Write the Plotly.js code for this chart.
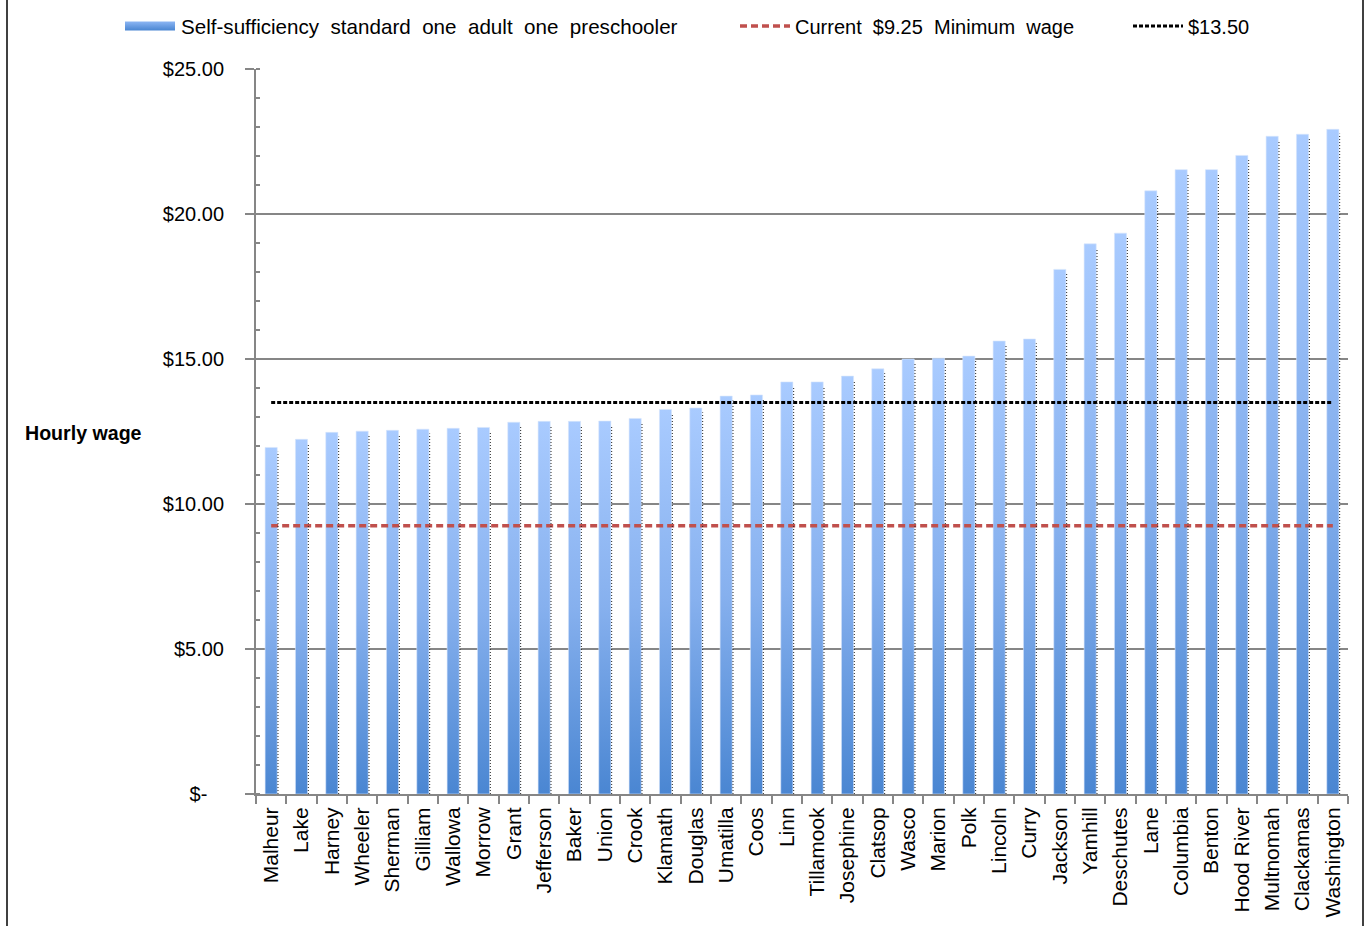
<!DOCTYPE html>
<html>
<head>
<meta charset="utf-8">
<script src="https://cdn.plot.ly/plotly-3.0.1.min.js"></script>
<style>
  html, body { margin: 0; padding: 0; background: #fff; }
  #chart { width: 1368px; height: 926px; }
</style>
</head>
<body>
<div id="chart"></div>
<script>
// ---- Data ----
const counties = ["Malheur","Lake","Harney","Wheeler","Sherman","Gilliam","Wallowa","Morrow","Grant","Jefferson","Baker","Union","Crook","Klamath","Douglas","Umatilla","Coos","Linn","Tillamook","Josephine","Clatsop","Wasco","Marion","Polk","Lincoln","Curry","Jackson","Yamhill","Deschutes","Lane","Columbia","Benton","Hood River","Multnomah","Clackamas","Washington"];
const selfSufficiency = [11.95,12.23,12.47,12.51,12.54,12.58,12.61,12.64,12.82,12.85,12.85,12.86,12.95,13.26,13.31,13.72,13.76,14.21,14.21,14.41,14.66,15.00,15.03,15.10,15.62,15.69,18.09,18.97,19.34,20.80,21.53,21.53,22.02,22.68,22.75,22.92];
const currentMinWage = 9.25;
const proposedWage = 13.50;
const yTickVals = [0,5,10,15,20,25];
const yTickText = ["$-\u00a0\u00a0\u00a0","$5.00","$10.00","$15.00","$20.00","$25.00"];
const seriesNames = ["Self-sufficiency  standard  one  adult  one  preschooler","Current  $9.25  Minimum  wage","$13.50"];

// ---- Derived traces ----
const gray = "#868686";
const font = "Liberation Sans, Arial, sans-serif";

// shadow dotted lines beside each bar (Excel shadow look)
const shX = [], shY = [];
selfSufficiency.forEach((v, i) => {
  shX.push(i + 0.225, i + 0.225, null);
  shY.push(0, v - 0.15, null);
});

const traces = [
  {
    type: "bar", x: counties, y: selfSufficiency, name: seriesNames[0], legend: "legend",
    width: 0.4,
    marker: { color: "#7BA7EA", line: { color: "#d6e5fb", width: 0.6 } },
    hoverinfo: "x+y"
  },
  {
    type: "scatter", mode: "lines", x: counties, y: counties.map(() => currentMinWage),
    name: seriesNames[1], legend: "legend2",
    line: { color: "#C0504D", width: 3.5, dash: "7px,4px" }
  },
  {
    type: "scatter", mode: "lines", x: counties, y: counties.map(() => proposedWage),
    name: seriesNames[2], legend: "legend3",
    line: { color: "#000000", width: 2.8, dash: "4px,2px" }
  },
  {
    type: "scatter", mode: "lines", x: shX, y: shY, xaxis: "x2",
    showlegend: false, hoverinfo: "skip",
    line: { color: "#222", width: 1, dash: "1px,2px" }
  }
];

const legFont = { family: font, size: 20, color: "#000" };
const legY = 1 + (69 - 26) / 725;
const px2x = px => (px - 256) / 1092;
const legBase = { orientation: "h", y: legY, yanchor: "middle", xanchor: "left",
                  font: legFont, itemwidth: 50, bgcolor: "rgba(0,0,0,0)", borderwidth: 0 };

const layout = {
  width: 1368, height: 926,
  margin: { l: 256, r: 20, t: 69, b: 132, autoexpand: false },
  paper_bgcolor: "#fff", plot_bgcolor: "#fff",
  font: { family: font, size: 18, color: "#000" },
  showlegend: true,
  legend: Object.assign({}, legBase, { x: px2x(121), font: { family: font, size: 20.6, color: "#000" } }),
  legend2: Object.assign({}, legBase, { x: px2x(735) }),
  legend3: Object.assign({}, legBase, { x: px2x(1128) }),
  xaxis: {
    type: "category", tickson: "boundaries",
    ticks: "outside", ticklen: 8, tickwidth: 2, tickcolor: gray,
    showline: true, linecolor: gray, linewidth: 2,
    tickangle: -90, ticklabelstandoff: 3,
    tickfont: { family: font, size: 21, color: "#000" },
    showgrid: false, zeroline: false, range: [-0.5, counties.length - 0.5]
  },
  xaxis2: {
    overlaying: "x", visible: false, range: [-0.5, counties.length - 0.5], fixedrange: true
  },
  yaxis: {
    range: [0, 25], tickvals: yTickVals, ticktext: yTickText,
    ticks: "outside", ticklen: 9, tickwidth: 2, tickcolor: gray,
    showline: true, linecolor: gray, linewidth: 2,
    showgrid: true, gridcolor: gray, gridwidth: 2,
    zeroline: false, ticklabelstandoff: 17,
    tickfont: { family: font, size: 20, color: "#000" },
    minor: { dtick: 1, ticks: "inside", ticklen: 4, tickcolor: gray, tickwidth: 1.5, showgrid: false }
  },
  annotations: [
    { text: "<b>Hourly wage</b>", xref: "paper", yref: "paper", x: px2x(83), y: (794 - 433) / 725,
      xanchor: "center", yanchor: "middle",
      showarrow: false, font: { family: font, size: 19.6, color: "#000" } }
  ],
  shapes: [
    { type: "line", xref: "paper", yref: "paper", x0: px2x(7), x1: px2x(7), y0: -0.3, y1: 1.2,
      line: { color: "#404040", width: 2 } },
    { type: "line", xref: "paper", yref: "paper", x0: px2x(1363), x1: px2x(1363), y0: -0.3, y1: 1.2,
      line: { color: "#404040", width: 2 } }
  ]
};

Plotly.newPlot("chart", traces, layout, { staticPlot: true, displayModeBar: false }).then(gd => {
  const svg = gd.querySelector("svg.main-svg");
  const NS = "http://www.w3.org/2000/svg";
  let defs = svg.querySelector("defs");
  if (!defs) { defs = document.createElementNS(NS, "defs"); svg.insertBefore(defs, svg.firstChild); }
  function grad(id, stops, horiz) {
    const g = document.createElementNS(NS, "linearGradient");
    g.setAttribute("id", id); g.setAttribute("x1", "0"); g.setAttribute("y1", "0");
    g.setAttribute("x2", horiz ? "1" : "0"); g.setAttribute("y2", horiz ? "0" : "1");
    stops.forEach(([o, c]) => {
      const s = document.createElementNS(NS, "stop");
      s.setAttribute("offset", o); s.setAttribute("stop-color", c); g.appendChild(s);
    });
    defs.appendChild(g);
  }
  grad("barGrad", [["0", "#A9CBFF"], ["0.5", "#86B0EE"], ["1", "#4A86D2"]], false);
  grad("legGrad", [["0", "#8DB6F4"], ["1", "#4A86D2"]], false);
  gd.querySelectorAll(".barlayer .point path").forEach(p => { p.style.fill = "url(#barGrad)"; });
  // widen the bar legend swatch to a long flat bar like the reference
  const leg = gd.querySelector("g.legend");
  if (leg) {
    const sym = leg.querySelector(".legendpoints path");
    const txt = leg.querySelector("text.legendtext");
    if (sym && txt) {
      const tx = parseFloat(txt.getAttribute("x")) || 0;
      const ptsG = sym.parentNode;
      const m = /translate\(([-\d.]+)/.exec(ptsG.getAttribute("transform") || "");
      const off = m ? parseFloat(m[1]) : 0;
      const right = tx - 36 - off;
      sym.setAttribute("d", `M${right - 50},-4.5h50v9h-50Z`);
      sym.style.fill = "url(#legGrad)";
      sym.style.stroke = "none";
    }
  }
});
</script>
</body>
</html>
